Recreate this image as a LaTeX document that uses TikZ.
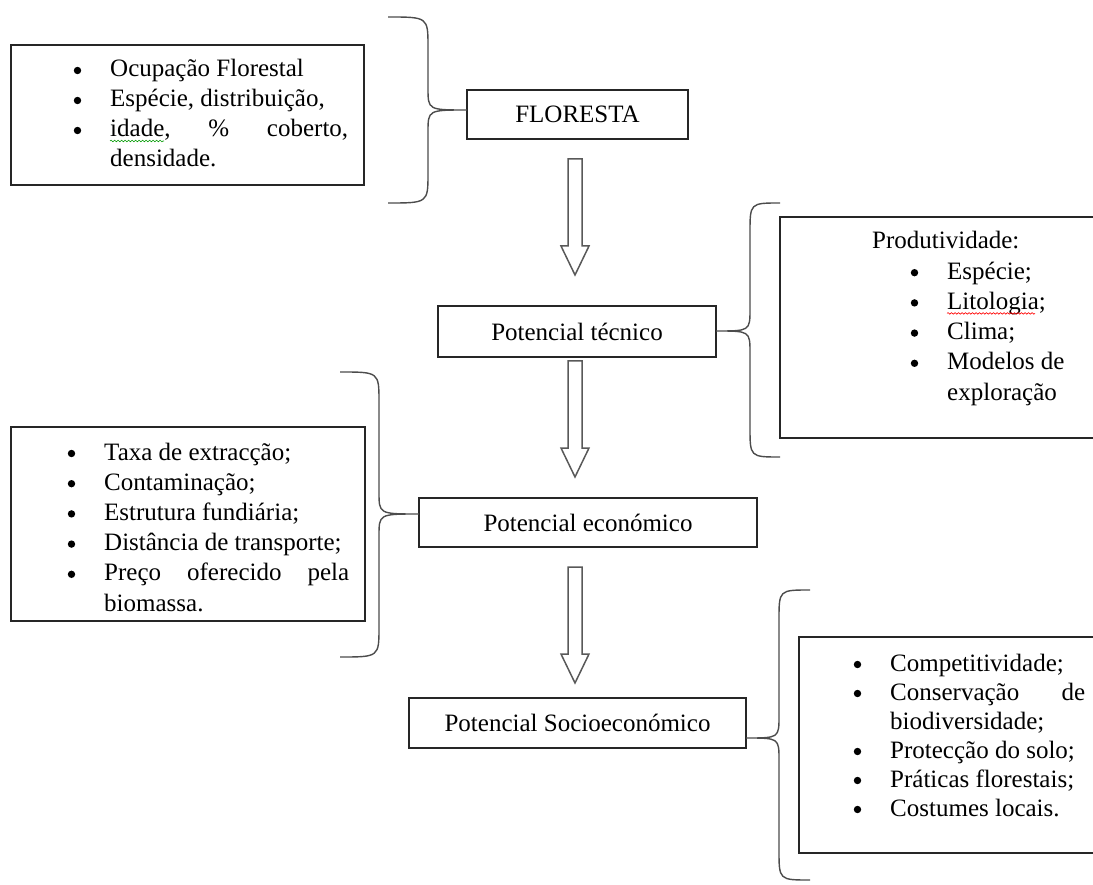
\documentclass[tikz,border=0pt]{standalone}
\usepackage{fontspec}
\setmainfont{Liberation Serif}
\usetikzlibrary{fit,decorations.pathmorphing}

\begin{document}
\begin{tikzpicture}[x=1pt,y=-1pt,
    caixa/.style={draw=black!85,line width=1.6pt,inner sep=0pt},
    titulo/.style={caixa,font=\fontsize{25}{30}\selectfont},
    linha/.style={anchor=base west,inner sep=0pt,font=\fontsize{25}{30}\selectfont},
    bola/.style={fill=black},
    chaveta/.style={draw=black!70,line width=1.4pt},
    seta/.style={draw=black!65,line width=1.5pt,line join=miter},
    ondas/.style={line width=0.6pt,decorate,decoration={snake,amplitude=0.8pt,segment length=3.5pt}}]

    \useasboundingbox (0,0) rectangle (1093,885);
    \clip (0,0) rectangle (1093,885);

    % caixas
    \node[caixa,fit={(11,45) (364,185)}] (ocup) {};
    \node[titulo,minimum width=221,minimum height=49] (flor) at (577.5,114.5) {FLORESTA};
    \node[titulo,minimum width=278,minimum height=51] (tec) at (577,331.5) {Potencial técnico};
    \node[caixa,fit={(780,217) (1100,438)}] (prod) {};
    \node[caixa,fit={(11,427) (365,621)}] (extr) {};
    \node[titulo,minimum width=338,minimum height=49] (eco) at (588,522.5) {Potencial económico};
    \node[titulo,minimum width=337,minimum height=50] (socio) at (577.5,723) {Potencial Socioeconómico};
    \node[caixa,fit={(799,637) (1100,853)}] (cons) {};

    % listas
    \foreach \txt [count=\i from 0] in {Ocupação Florestal,{Espécie, distribuição,},
        {\makebox[238pt][l]{idade,\hfill\%\hfill coberto,}},densidade.}
        \node[linha] (o\i) at (110,77+30*\i) {\txt};

    \node[linha] (p0) at (872,249) {Produtividade:};
    \foreach \txt [count=\i] in {Espécie;,Litologia;,Clima;,Modelos de,exploração}
        \node[linha] (p\i) at (947,249+30.2*\i) {\txt};

    \foreach \txt [count=\i from 0] in {Taxa de extracção;,Contaminação;,Estrutura fundiária;,
        Distância de transporte;,{\makebox[245pt][l]{Preço\hfill oferecido\hfill pela}},biomassa.}
        \node[linha] (e\i) at (104,460+30.2*\i) {\txt};

    \foreach \txt [count=\i from 0] in {Competitividade;,{\makebox[195pt][l]{Conservação\hfill de}},biodiversidade;,
        Protecção do solo;,Práticas florestais;,Costumes locais.}
        \node[linha] (s\i) at (890,671+29*\i) {\txt};

    % marcadores
    \foreach \n in {o0,o1,o2,p1,p2,p3,p4,e0,e1,e2,e3,e4,s0,s1,s3,s4,s5}
        \fill[bola] ([xshift=-32.5pt,yshift=6.5pt]\n.base west) circle (3.7pt);

    % sublinhados do corrector
    \draw[ondas,green!60!black] ([yshift=-4pt]o2.base west) -- +(54,0);
    \draw[ondas,red] ([yshift=-4pt]p2.base west) -- +(88,0);

    % chavetas
    \foreach \xa/\xb/\xc/\ya/\yb/\yc in {388/428/467/17/110/203,780/750/716/203/331/457,
        340/379/419/372/514/657,810/779/746/590/738/880}
        \draw[chaveta] (\xa,\ya) .. controls (\xb,\ya) .. (\xb,\ya+30) -- (\xb,\yb-22)
            .. controls (\xb,\yb) .. (\xc,\yb) .. controls (\xb,\yb) .. (\xb,\yb+22)
            -- (\xb,\yc-30) .. controls (\xb,\yc) .. (\xa,\yc);

    % setas
    \foreach \ya in {159,361,567}
        \draw[seta] (568,\ya) -- (582,\ya) -- (582,\ya+87) -- (589,\ya+87) -- (575,\ya+116)
            -- (561,\ya+87) -- (568,\ya+87) -- cycle;
\end{tikzpicture}
\end{document}
